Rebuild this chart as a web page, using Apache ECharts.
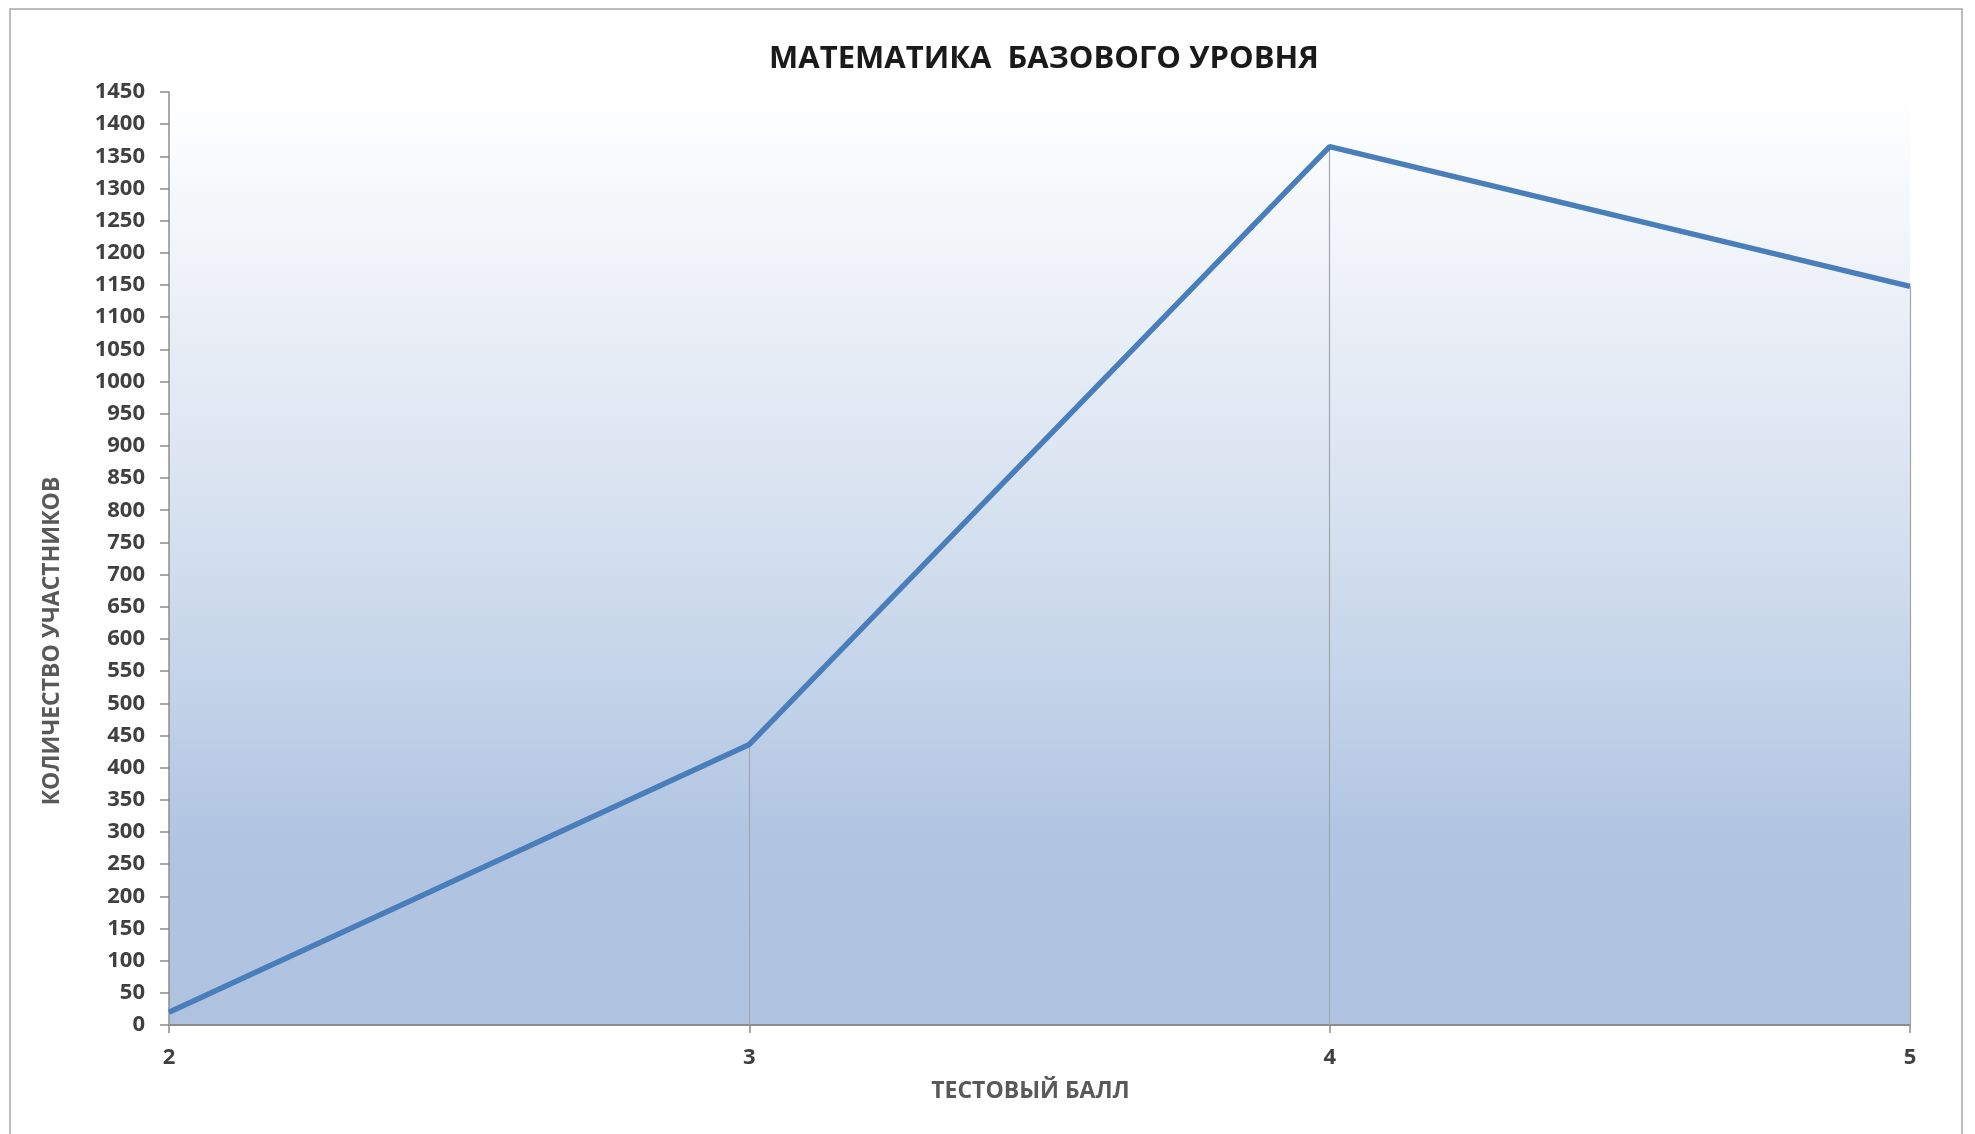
<!DOCTYPE html>
<html>
<head>
<meta charset="utf-8">
<script src="https://cdn.jsdelivr.net/npm/echarts@6/dist/echarts.min.js"></script>
<style>html,body{margin:0;padding:0;background:#fff}#c{width:1975px;height:1134px}</style>
</head>
<body>
<div id="c"></div>
<script>
const titleText = 'МАТЕМАТИКА  БАЗОВОГО УРОВНЯ';
const xName = 'ТЕСТОВЫЙ БАЛЛ';
const yName = 'КОЛИЧЕСТВО УЧАСТНИКОВ';
const scores = [2, 3, 4, 5];
const counts = [20, 436, 1365, 1148];
const yMin = 0, yMax = 1450, yStep = 50;

const FONT = 'Open Sans';
const chart = echarts.init(document.getElementById('c'));
const points = scores.map((s, i) => [s, counts[i]]);
const drops = scores.map((s, i) => [{ coord: [s, 0] }, { coord: [s, counts[i]] }]);

chart.setOption({
  animation: false,
  backgroundColor: '#ffffff',
  title: {
    text: titleText,
    left: 1039,
    top: 39,
    textAlign: 'center',
    textStyle: { fontFamily: FONT, fontWeight: 'bold', fontSize: 31, color: '#1a1a1a' }
  },
  grid: {
    left: 169, right: 65, top: 92, bottom: 109,
    show: true,
    borderWidth: 0,
    backgroundColor: {
      type: 'linear', x: 0, y: 0, x2: 0, y2: 1,
      colorStops: [
        { offset: 0, color: '#ffffff' },
        { offset: 0.03, color: '#fcfdfe' },
        { offset: 0.2, color: '#eef2f8' },
        { offset: 0.5, color: '#d2deee' },
        { offset: 0.8, color: '#b1c5e2' },
        { offset: 1, color: '#afc3e1' }
      ]
    }
  },
  xAxis: {
    type: 'value',
    min: 2, max: 5, interval: 1,
    name: xName,
    nameLocation: 'middle',
    nameGap: 55,
    nameTextStyle: { fontFamily: FONT, fontWeight: 'bold', fontSize: 23, color: '#595959', padding: [0, 18, 0, 0] },
    axisLine: { show: true, lineStyle: { color: '#8c8c8c', width: 2 } },
    axisTick: { show: true, length: 8, lineStyle: { color: '#8c8c8c', width: 1.5 } },
    axisLabel: { margin: 22, fontFamily: FONT, fontWeight: 'bold', fontSize: 22, color: '#404040' },
    splitLine: { show: false }
  },
  yAxis: {
    type: 'value',
    min: yMin, max: yMax, interval: yStep,
    axisLine: { show: true, lineStyle: { color: '#8c8c8c', width: 1.5 } },
    axisTick: { show: true, length: 9, lineStyle: { color: '#8c8c8c', width: 1.5 } },
    axisLabel: {
      margin: 24, fontFamily: FONT, fontWeight: 'bold', fontSize: 22, color: '#404040',
      formatter: v => String(v)
    },
    splitLine: { show: false }
  },
  graphic: [
    {
      type: 'rect', silent: true, z: -1,
      shape: { x: 10, y: 9, width: 1952, height: 1140 },
      style: { fill: 'none', stroke: '#a6a6a6', lineWidth: 1.5 }
    },
    {
      type: 'text', x: 52, y: 641, rotation: Math.PI / 2,
      style: {
        text: yName, fontFamily: FONT, fontWeight: 'bold', fontSize: 23, fill: '#595959',
        align: 'center', verticalAlign: 'middle'
      }
    }
  ],
  series: [{
    type: 'line',
    data: points,
    symbol: 'none',
    lineStyle: { color: '#4a7ebb', width: 5.5 },
    z: 3,
    markLine: {
      silent: true,
      symbol: 'none',
      label: { show: false },
      lineStyle: { color: '#a0a6ae', width: 1.2, type: 'solid' },
      data: drops,
      z: 2
    }
  }]
});
</script>
</body>
</html>
